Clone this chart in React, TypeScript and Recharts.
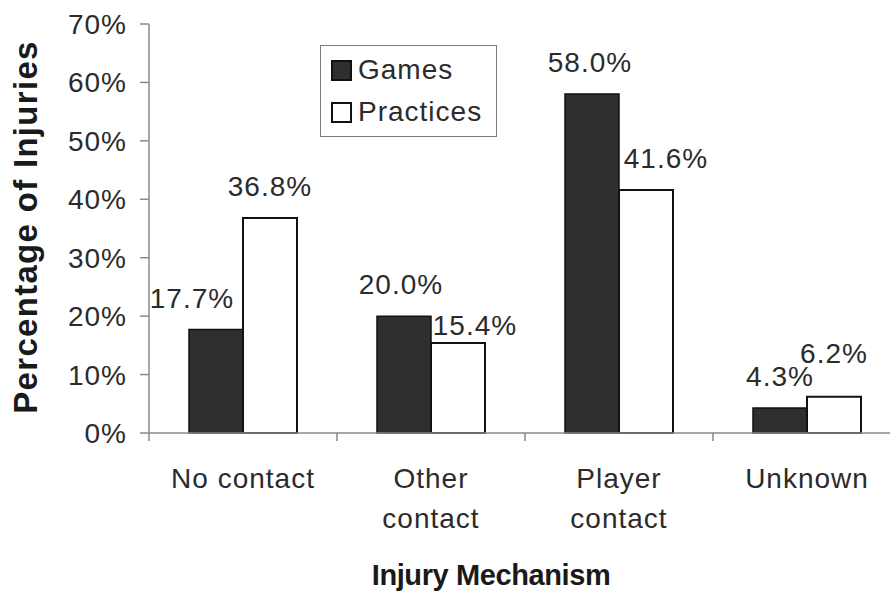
import { BarChart, Bar, XAxis, YAxis, Legend, LabelList, Label } from 'recharts'

const categories = ['No contact', 'Other contact', 'Player contact', 'Unknown']
const games = [17.7, 20.0, 58.0, 4.3]
const practices = [36.8, 15.4, 41.6, 6.2]
const yTicks = [0, 10, 20, 30, 40, 50, 60, 70]

// label nudges (px) to mimic the hand-placed labels of the original
const gamesNudge = [[-24, 0], [-3, 0], [-2, 0], [0, 0]]
const practicesNudge = [[0, 0], [17, 14], [20, 0], [0, -12]]

const data = categories.map((name, i) => ({
  name,
  Games: games[i],
  Practices: practices[i]
}))

const FONT = '"Liberation Sans", Arial, Helvetica, sans-serif'
const TEXT = '#2b2b2b'
const AXIS = '#8a8a8a'

const makeLabel = (nudge: number[][]) => (props: any) => {
  const { x, y, width, value, index } = props
  const [dx, dy] = nudge[index] || [0, 0]
  return (
    <text
      x={x + width / 2 + dx}
      y={y - 22 + dy}
      textAnchor="middle"
      fontFamily={FONT}
      fontSize={28}
      letterSpacing={1}
      fill={TEXT}
    >
      {`${Number(value).toFixed(1)}%`}
    </text>
  )
}

const CategoryTick = (props: any) => {
  const { x, y, payload } = props
  const half = payload.offset || 94
  const words = String(payload.value).split(' ')
  const lines = words.length > 1 && payload.value !== 'No contact' ? words : [payload.value]
  return (
    <g>
      <line x1={x - half} y1={y} x2={x - half} y2={y + 8} stroke={AXIS} strokeWidth={1.5} />
      <text textAnchor="middle" fontFamily={FONT} fontSize={28} letterSpacing={1} fill={TEXT}>
        {lines.map((l: string, i: number) => (
          <tspan key={i} x={x} y={y + 55 + i * 40}>
            {l}
          </tspan>
        ))}
      </text>
    </g>
  )
}

const LegendBox = (props: any) => {
  const { payload } = props
  return (
    <div
      style={{
        boxSizing: 'border-box',
        width: 177,
        height: 92,
        border: '1.5px solid #7a7a7a',
        background: '#fff',
        padding: '3px 0 0 10px',
        fontFamily: FONT,
        fontSize: 28,
        letterSpacing: 1,
        color: TEXT
      }}
    >
      {(payload || []).map((entry: any) => (
        <div key={entry.value} style={{ display: 'flex', alignItems: 'center', height: 42 }}>
          <span
            style={{
              boxSizing: 'border-box',
              display: 'inline-block',
              width: 21,
              height: 21,
              background: entry.color,
              border: '2px solid #111',
              marginRight: 6
            }}
          />
          <span>{entry.value}</span>
        </div>
      ))}
    </div>
  )
}

export default function App() {
  return (
    <div style={{ position: 'absolute', left: 0, top: 0, width: 890, height: 592, background: '#fff' }}>
      <BarChart
        width={890}
        height={592}
        data={data}
        margin={{ top: 24, right: -11, bottom: 0, left: 0 }}
        barGap={0}
      >
        <XAxis
          dataKey="name"
          height={159}
          interval={0}
          tickSize={0}
          tickMargin={0}
          tickLine={false}
          axisLine={{ stroke: AXIS, strokeWidth: 1.5 }}
          tick={<CategoryTick />}
        >
          <Label
            content={() => (
              <text
                x={491}
                y={585}
                textAnchor="middle"
                fontFamily={FONT}
                fontSize={29}
                fontWeight="bold"
                letterSpacing={-0.4}
                fill="#1a1a1a"
              >
                Injury Mechanism
              </text>
            )}
          />
        </XAxis>
        <YAxis
          type="number"
          domain={[0, 70]}
          ticks={yTicks}
          interval={0}
          width={149}
          tickSize={9}
          tickMargin={13}
          tickFormatter={(v: number) => `${v}%`}
          axisLine={{ stroke: AXIS, strokeWidth: 1.5 }}
          tickLine={{ stroke: AXIS, strokeWidth: 1.5 }}
          tick={{ fontFamily: FONT, fontSize: 28, letterSpacing: 1, fill: TEXT }}
        >
          <Label
            content={() => (
              <text
                x={37}
                y={227}
                transform="rotate(-90 37 227)"
                textAnchor="middle"
                fontFamily={FONT}
                fontSize={33}
                fontWeight="bold"
                letterSpacing={1.3}
                fill="#1a1a1a"
              >
                Percentage of Injuries
              </text>
            )}
          />
        </YAxis>
        <Legend
          layout="vertical"
          align="center"
          verticalAlign="middle"
          content={<LegendBox />}
          wrapperStyle={{ left: 320, top: 45, width: 177, height: 92 }}
        />
        <Bar dataKey="Games" fill="#2f2f2f" stroke="#111" strokeWidth={1.5} barSize={54} isAnimationActive={false}>
          <LabelList dataKey="Games" content={makeLabel(gamesNudge)} />
        </Bar>
        <Bar dataKey="Practices" fill="#ffffff" stroke="#111" strokeWidth={2} barSize={54} isAnimationActive={false}>
          <LabelList dataKey="Practices" content={makeLabel(practicesNudge)} />
        </Bar>
      </BarChart>
    </div>
  )
}
